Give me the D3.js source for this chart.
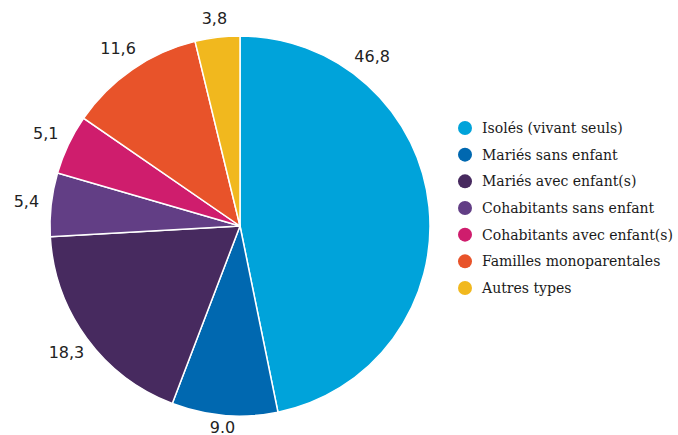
<!DOCTYPE html>
<html><head><meta charset="utf-8">
<script src="https://cdn.jsdelivr.net/npm/d3@7"></script>
<style>body{margin:0;background:#fff;}svg{display:block;}</style>
</head><body>
<svg id="c" width="678" height="435"></svg>
<script>
const categories = ["Isolés (vivant seuls)","Mariés sans enfant","Mariés avec enfant(s)","Cohabitants sans enfant","Cohabitants avec enfant(s)","Familles monoparentales","Autres types"];
const values = [46.8, 9.0, 18.3, 5.4, 5.1, 11.6, 3.8];
const valueLabels = ["46,8","9.0","18,3","5,4","5,1","11,6","3,8"];
const colors = ["#00a3da","#0068b0","#472a5f","#623e85","#cf1d6d","#e8532a","#f1b81e"];

const svg = d3.select("#c");
const cx = 240, cy = 226, R = 190;
const g = svg.append("g").attr("transform", `translate(${cx},${cy})`);
const pie = d3.pie().sort(null).value(d => d)(values);
const arc = d3.arc().innerRadius(0).outerRadius(R);
g.selectAll("path").data(pie).join("path")
  .attr("d", arc).attr("fill", (d,i) => colors[i])
  .attr("stroke", "#fff").attr("stroke-width", 1.5);

const labelR = 215;
g.selectAll("text.v").data(pie).join("text")
  .attr("class","v")
  .each(function(d,i){
    let a = (d.startAngle + d.endAngle)/2;
    if (i === 0) a = d.startAngle + 0.225*(d.endAngle - d.startAngle);
    let x = labelR*Math.sin(a), y = -labelR*Math.cos(a);
    y = Math.max(-cy + 18, Math.min(435 - cy - 8, y));
    d3.select(this).attr("x", x).attr("y", y);
  })
  .attr("text-anchor","middle").attr("dominant-baseline","central")
  .attr("font-family","DejaVu Sans").attr("font-size",16).attr("fill","#222")
  .text((d,i) => valueLabels[i]);

const y = d3.scalePoint().domain(categories).range([128, 288]);
const lg = svg.append("g");
const rows = lg.selectAll("g").data(categories).join("g")
  .attr("transform", d => `translate(0,${y(d)})`);
rows.append("circle").attr("cx",465).attr("cy",0).attr("r",7).attr("fill",(d,i)=>colors[i]);
rows.append("text").attr("x",482).attr("y",0).attr("dominant-baseline","central")
  .attr("font-family","DejaVu Serif Condensed, DejaVu Serif").attr("font-size",15.6).attr("fill","#1a1a1a")
  .text(d => d);
</script>
</body></html>
